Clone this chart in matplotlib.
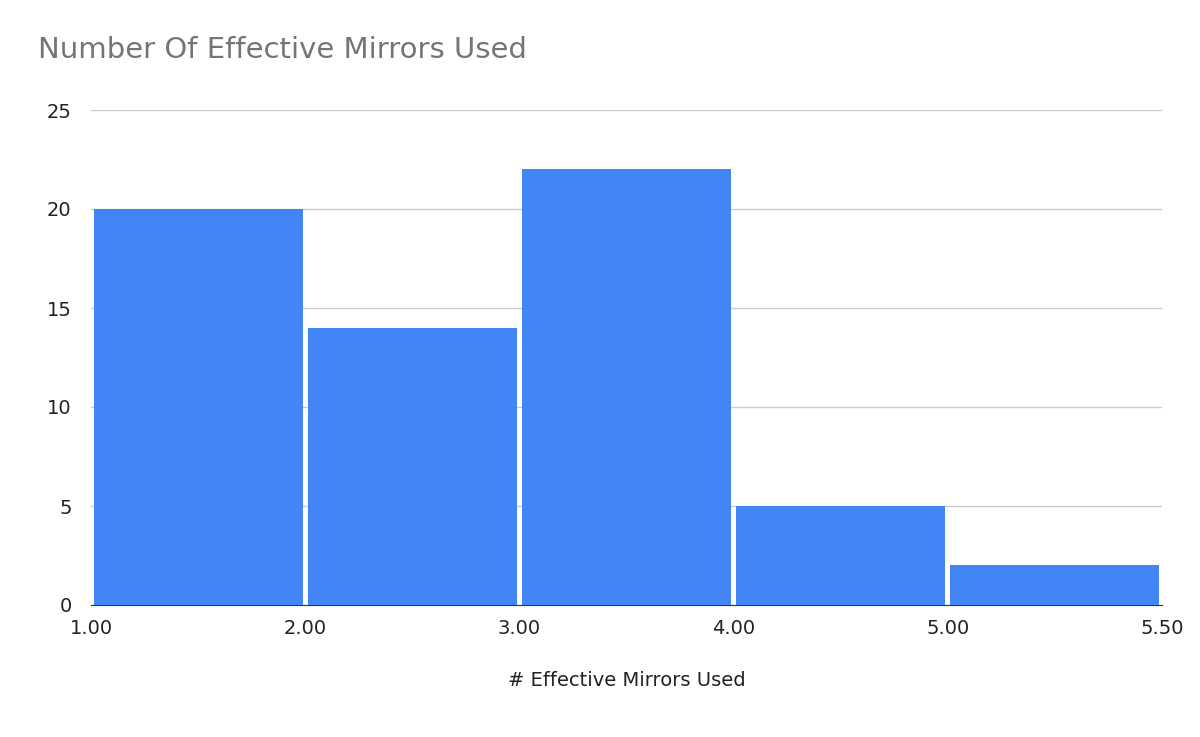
import matplotlib
matplotlib.use("Agg")
import matplotlib.pyplot as plt

tick_labels = ["1.00", "2.00", "3.00", "4.00", "5.00", "5.50"]
counts = [20, 14, 22, 5, 2]

fig = plt.figure(figsize=(12, 7.37), dpi=100)
ax = fig.add_axes([91/1200, 1-605/737, (1162-91)/1200, (605-110)/737])
pos = [i + 0.5 for i in range(len(counts))]
ax.bar(pos, counts, width=0.975, color="#4285f4", zorder=3)
ax.set_xlim(0, 5)
ax.set_ylim(0, 25)
ax.set_xticks(range(len(tick_labels)))
ax.set_xticklabels(tick_labels)
ax.set_yticks([0, 5, 10, 15, 20, 25])
ax.grid(axis="y", color="#cccccc", linewidth=1, zorder=0)
for s in ["top", "right", "left"]:
    ax.spines[s].set_visible(False)
ax.spines["bottom"].set_color("#333333")
ax.tick_params(length=0, labelsize=14, colors="#222222", pad=10)
ax.tick_params(axis="y", pad=14)
ax.set_xlabel("# Effective Mirrors Used", fontsize=14, color="#222222", labelpad=24)
fig.text(38/1200, 1-50/737, "Number Of Effective Mirrors Used", fontsize=21, color="#757575", va="center")
fig.savefig("out.png", dpi=100)
